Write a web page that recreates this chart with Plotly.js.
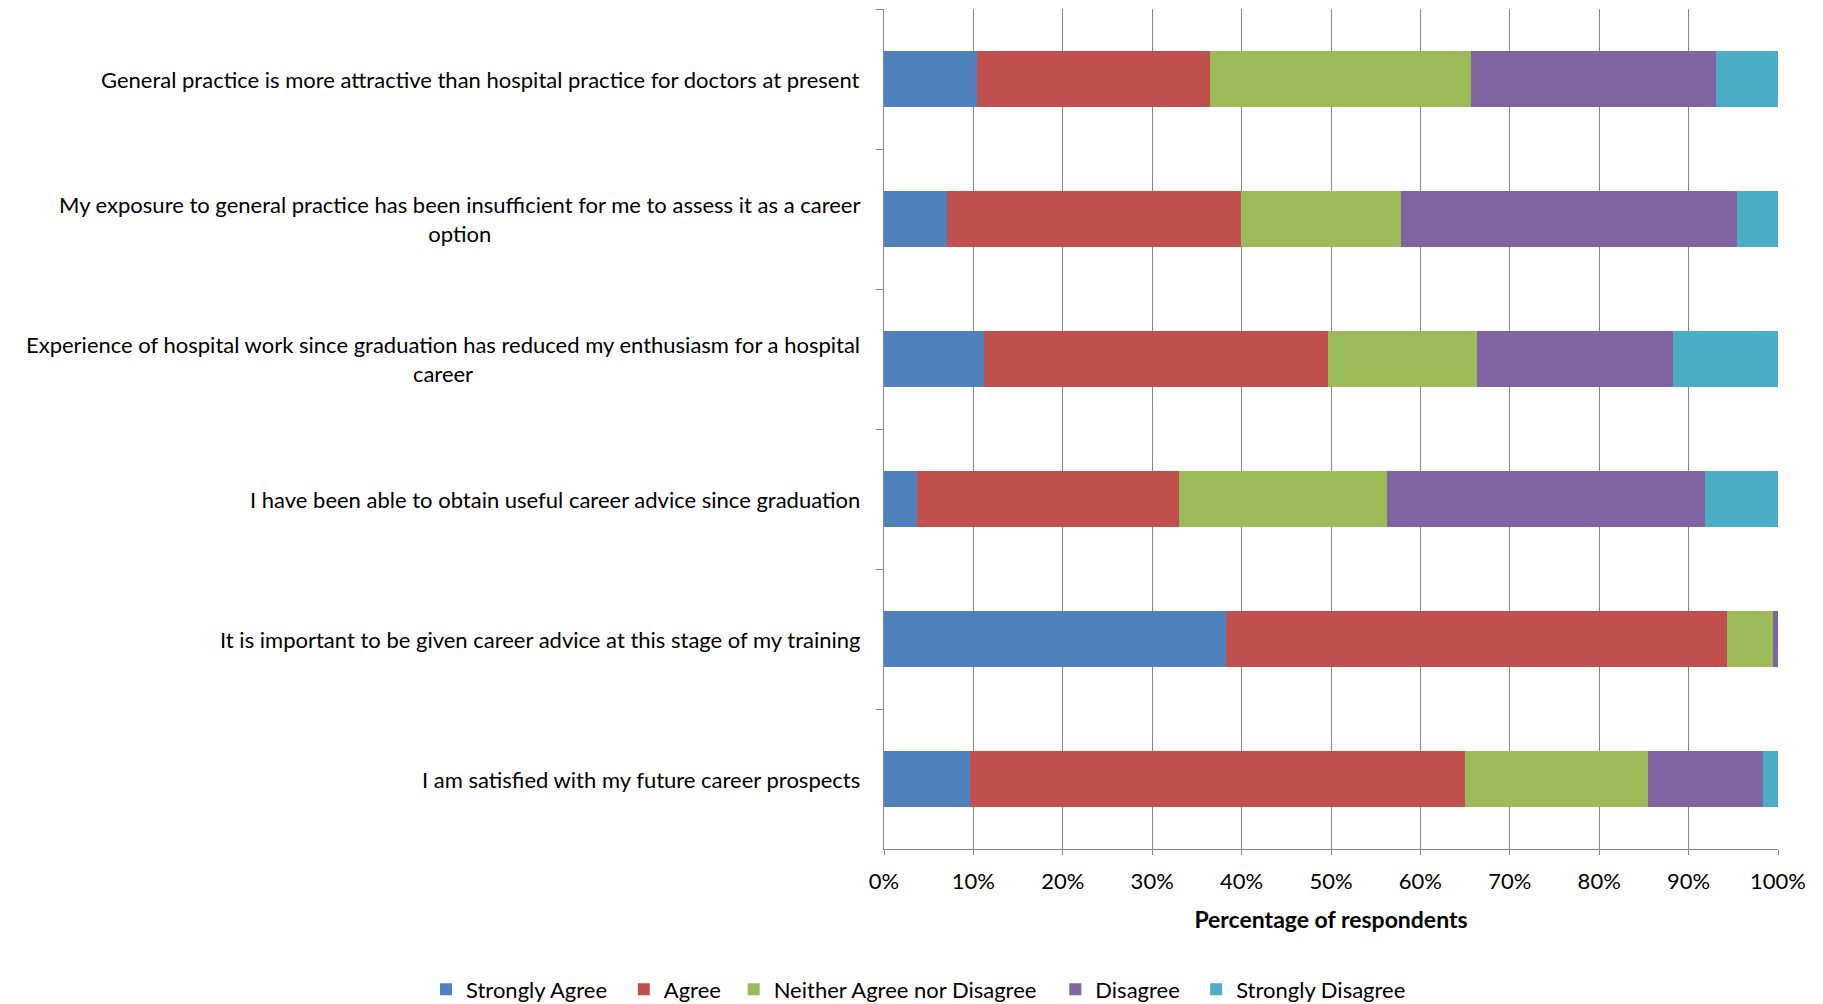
<!DOCTYPE html>
<html>
<head>
<meta charset="utf-8">
<script src="https://cdn.plot.ly/plotly-3.0.1.min.js"></script>
<style>
html,body{margin:0;padding:0;background:#fff;}
#chart{width:1823px;height:1004px;}
</style>
</head>
<body>
<div id="chart"></div>
<script>
const categories = [
  "General practice is more attractive than hospital practice for doctors at present",
  "My exposure to general practice has been insufficient for me to assess it as a career<br>option",
  "Experience of hospital work since graduation has reduced my enthusiasm for a hospital<br>career",
  "I have been able to obtain useful career advice since graduation",
  "It is important to be given career advice at this stage of my training",
  "I am satisfied with my future career prospects"
];
const seriesNames = ["Strongly Agree", "Agree", "Neither Agree nor Disagree", "Disagree", "Strongly Disagree"];
const stronglyAgree    = [10.4, 7.1, 11.2, 3.7, 38.2, 9.6];
const agree            = [26.1, 32.8, 38.5, 29.3, 56.1, 55.4];
const neither          = [29.2, 17.9, 16.6, 23.3, 5.1, 20.5];
const disagree         = [27.4, 37.6, 21.9, 35.5, 0.6, 12.8];
const stronglyDisagree = [6.9, 4.6, 11.8, 8.2, 0.0, 1.7];
const xTickVals = [0,10,20,30,40,50,60,70,80,90,100];
const xTickText = ["0%","10%","20%","30%","40%","50%","60%","70%","80%","90%","100%"];

const colors = ["#4F81BD", "#C0504D", "#9BBB59", "#8064A2", "#4BACC6"];
const values = [stronglyAgree, agree, neither, disagree, stronglyDisagree];
const FONT = "'Liberation Sans Narrow', 'Arial Narrow', Lato, sans-serif";

// plot-area geometry (px) used to place the legend entries in paper units
const PL = 883.5, PR = 44.5, PT = 9.3, PB = 155.3, W = 1823, H = 1004;
const PW = W - PL - PR, PH = H - PT - PB;
const legendLeftPx = [425, 623, 733, 1055, 1196];
const legendMidPx = 989;

const legendKey = i => (i === 0 ? "legend" : "legend" + (i + 1));

const traces = values.map((v, i) => ({
  type: "bar",
  orientation: "h",
  name: seriesNames[i],
  legend: legendKey(i),
  y: categories,
  x: v,
  marker: {color: colors[i], line: {width: 0}},
  hoverinfo: "x+name"
}));

const annotations = categories.map(c => ({
  xref: "paper", yref: "y",
  x: 0, y: c,
  xanchor: "right", yanchor: "middle",
  xshift: -22,
  align: "center",
  showarrow: false,
  text: c,
  font: {family: FONT, size: 22, color: "#000"}
}));

const layout = {
  width: W, height: H,
  margin: {l: PL, r: PR, t: PT, b: PB, autoexpand: false},
  paper_bgcolor: "#fff", plot_bgcolor: "#fff",
  barmode: "stack",
  bargap: 0.6,
  showlegend: true,
  xaxis: {
    range: [0, 100],
    tickmode: "array",
    tickvals: xTickVals,
    ticktext: xTickText,
    showgrid: true, gridcolor: "#868686", gridwidth: 1,
    showline: true, linecolor: "#868686", linewidth: 1,
    ticks: "outside", ticklen: 5, tickcolor: "#868686",
    ticklabelstandoff: 8,
    zeroline: false,
    automargin: false,
    tickfont: {family: FONT, size: 22, color: "#000"},
    title: {text: "<b>Percentage of respondents</b>", standoff: 18,
            font: {family: FONT, size: 23, color: "#000"}},
    fixedrange: true
  },
  yaxis: {
    type: "category",
    autorange: "reversed",
    showticklabels: false,
    showgrid: false,
    showline: true, linecolor: "#868686", linewidth: 1,
    ticks: "outside", ticklen: 7, tickcolor: "#868686",
    tickson: "boundaries",
    zeroline: false,
    automargin: false,
    fixedrange: true
  },
  annotations: annotations
};

seriesNames.forEach((n, i) => {
  layout[legendKey(i)] = {
    orientation: "h",
    x: (legendLeftPx[i] - PL) / PW, xanchor: "left",
    y: -(legendMidPx - (H - PB)) / PH, yanchor: "middle",
    font: {family: FONT, size: 22, color: "#000"},
    itemwidth: 30,
    bgcolor: "rgba(0,0,0,0)"
  };
});

Plotly.newPlot("chart", traces, layout, {displayModeBar: false, staticPlot: true});
</script>
</body>
</html>
